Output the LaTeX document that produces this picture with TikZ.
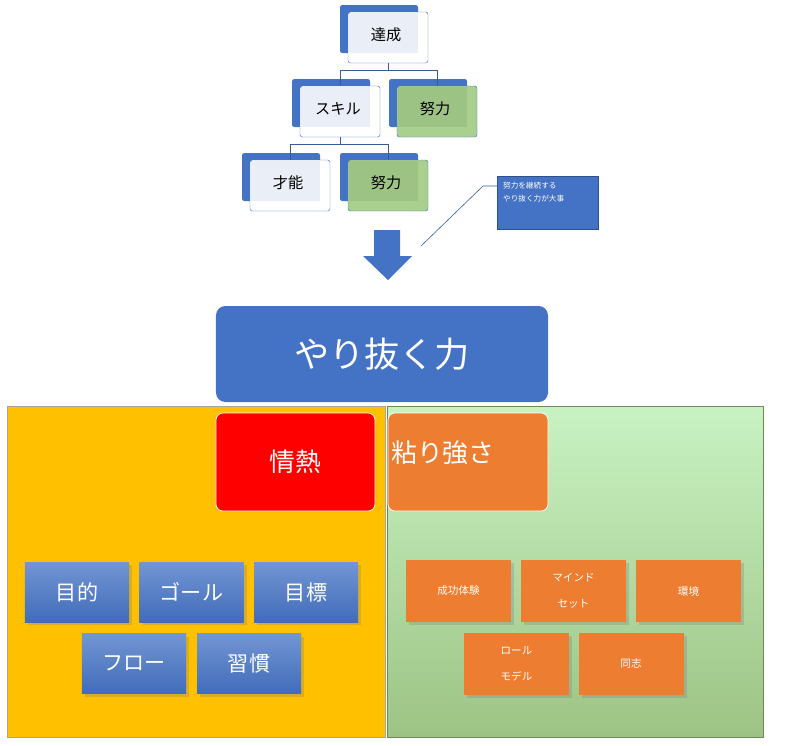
\documentclass[tikz,border=0pt]{standalone}
\usepackage{fontspec}
\setmainfont{Noto Sans CJK JP}
\usetikzlibrary{arrows.meta,positioning,shadows}
\definecolor{tblue}{HTML}{4472C4}
\definecolor{tgreen}{HTML}{A9D08E}
\definecolor{tgreenD}{HTML}{9DC384}
\definecolor{tlight}{HTML}{E9EEF7}
\definecolor{torange}{HTML}{ED7D31}
\definecolor{tyellow}{HTML}{FFC000}
\tikzset{
  back/.style={fill=tblue,rounded corners=2pt},
  front/.style={draw=tblue,fill=white,rounded corners=2pt},
  lbl/.style={font=\fontsize{13}{15}\selectfont,inner sep=0pt},
  link/.style={draw=tblue!80!black,line width=0.5pt},
  goal/.style={draw=white,line width=0.6pt,rounded corners=6pt,text=white,
    font=\fontsize{22}{26}\selectfont,inner sep=0pt},
  item/.style={top color=tblue!75,bottom color=tblue!95!black,text=white,
    minimum width=3.12cm,minimum height=1.8cm,inner sep=0pt,
    font=\fontsize{18}{22}\selectfont,drop shadow={opacity=0.3}},
  sub/.style={fill=torange,text=white,minimum width=3.15cm,minimum height=1.86cm,
    inner sep=0pt,align=center,font=\fontsize{9}{22}\selectfont,drop shadow={opacity=0.3}}
}
% one org-chart box: #1 name, #2 x, #3 y, #4 fill, #5 overlap fill, #6 text
\newcommand{\orgbox}[6]{%
  \fill[back] (#2,#3) rectangle ++(78,48);
  \draw[front,fill=#4] (#2+8,#3+7) rectangle ++(80,51);
  \fill[#5] (#2+9,#3+8) rectangle (#2+78,#3+48);
  \node[lbl] (#1) at (#2+46,#3+30) {#6};
  \coordinate (#1-t) at (#2+48,#3+7);
  \coordinate (#1-b) at (#2+48,#3+58);
}
\begin{document}
\begin{tikzpicture}[x=0.03cm,y=-0.03cm]
\useasboundingbox (0,0) rectangle (786,745);
% hierarchy
\orgbox{top}{340}{5}{white}{tlight}{達成}
\orgbox{skill}{292}{79}{white}{tlight}{スキル}
\orgbox{effA}{389}{79}{tgreen}{tgreenD}{努力}
\orgbox{talent}{242}{153}{white}{tlight}{才能}
\orgbox{effB}{340}{153}{tgreen}{tgreenD}{努力}
\draw[link] (top-b) -- ++(0,7) -| (skill-t);
\draw[link] (top-b) -- ++(0,7) -| (effA-t);
\draw[link] (skill-b) -- ++(0,7) -| (talent-t);
\draw[link] (skill-b) -- ++(0,7) -| (effB-t);
% callout
\node[fill=tblue,text=white,draw=tblue!70!black,minimum width=3.03cm,minimum height=1.59cm,
  anchor=north west,inner sep=0pt] (note) at (497,176) {};
\node[text=white,font=\fontsize{6.5}{11}\selectfont,align=left,anchor=north west,inner sep=0pt]
  (noteText) at (503,182) {努力を継続する\\やり抜く力が大事};
\coordinate (noteEnd) at (421,246);
\draw[tblue!80!black,line width=0.5pt] (noteEnd) -- (483,186) -- (note.west |- 0,186);
% big arrow
\fill[tblue] (374,230) -- (400,230) -- (400,256) -- (412,256) -- (388,280) -- (363,256) -- (374,256) -- cycle;
% main box
\node[fill=tblue,rounded corners=8pt,minimum width=9.96cm,minimum height=2.88cm,text=white,
  font=\fontsize{30}{34}\selectfont,inner sep=0pt] (grit) at (382,354) {やり抜く力};
% panels
\fill[tyellow,draw=gray!70] (7,406) rectangle (385,737);
\shade[top color=green!25!gray!20!green!20!white!80!tgreen,bottom color=tgreenD,draw=tgreenD!70!black]
  (387,406) rectangle (763,737);
\node[goal,fill=red,minimum width=4.77cm,minimum height=2.94cm] (passion) at (295.5,462) {情熱};
\node[goal,fill=torange,minimum width=4.8cm,minimum height=2.94cm,text width=4.6cm,
  align=left] (persist) at (468,462) {\raisebox{0.6cm}{粘り強さ}};
% passion items
\node[item] (aim) at (77,592) {目的};
\node[item] (goalB) at (191.5,592) {ゴール};
\node[item] (target) at (306,592) {目標};
\node[item] (flow) at (134,663.5) {フロー};
\node[item] (habit) at (249,663.5) {習慣};
% persistence items
\node[sub] (success) at (458.5,591) {成功体験};
\node[sub] (mind) at (573.5,591) {マインド\\セット};
\node[sub] (env) at (688.5,591) {環境};
\node[sub] (role) at (516.5,663.5) {ロール\\モデル};
\node[sub] (peer) at (631,663.5) {同志};
\end{tikzpicture}
\end{document}
